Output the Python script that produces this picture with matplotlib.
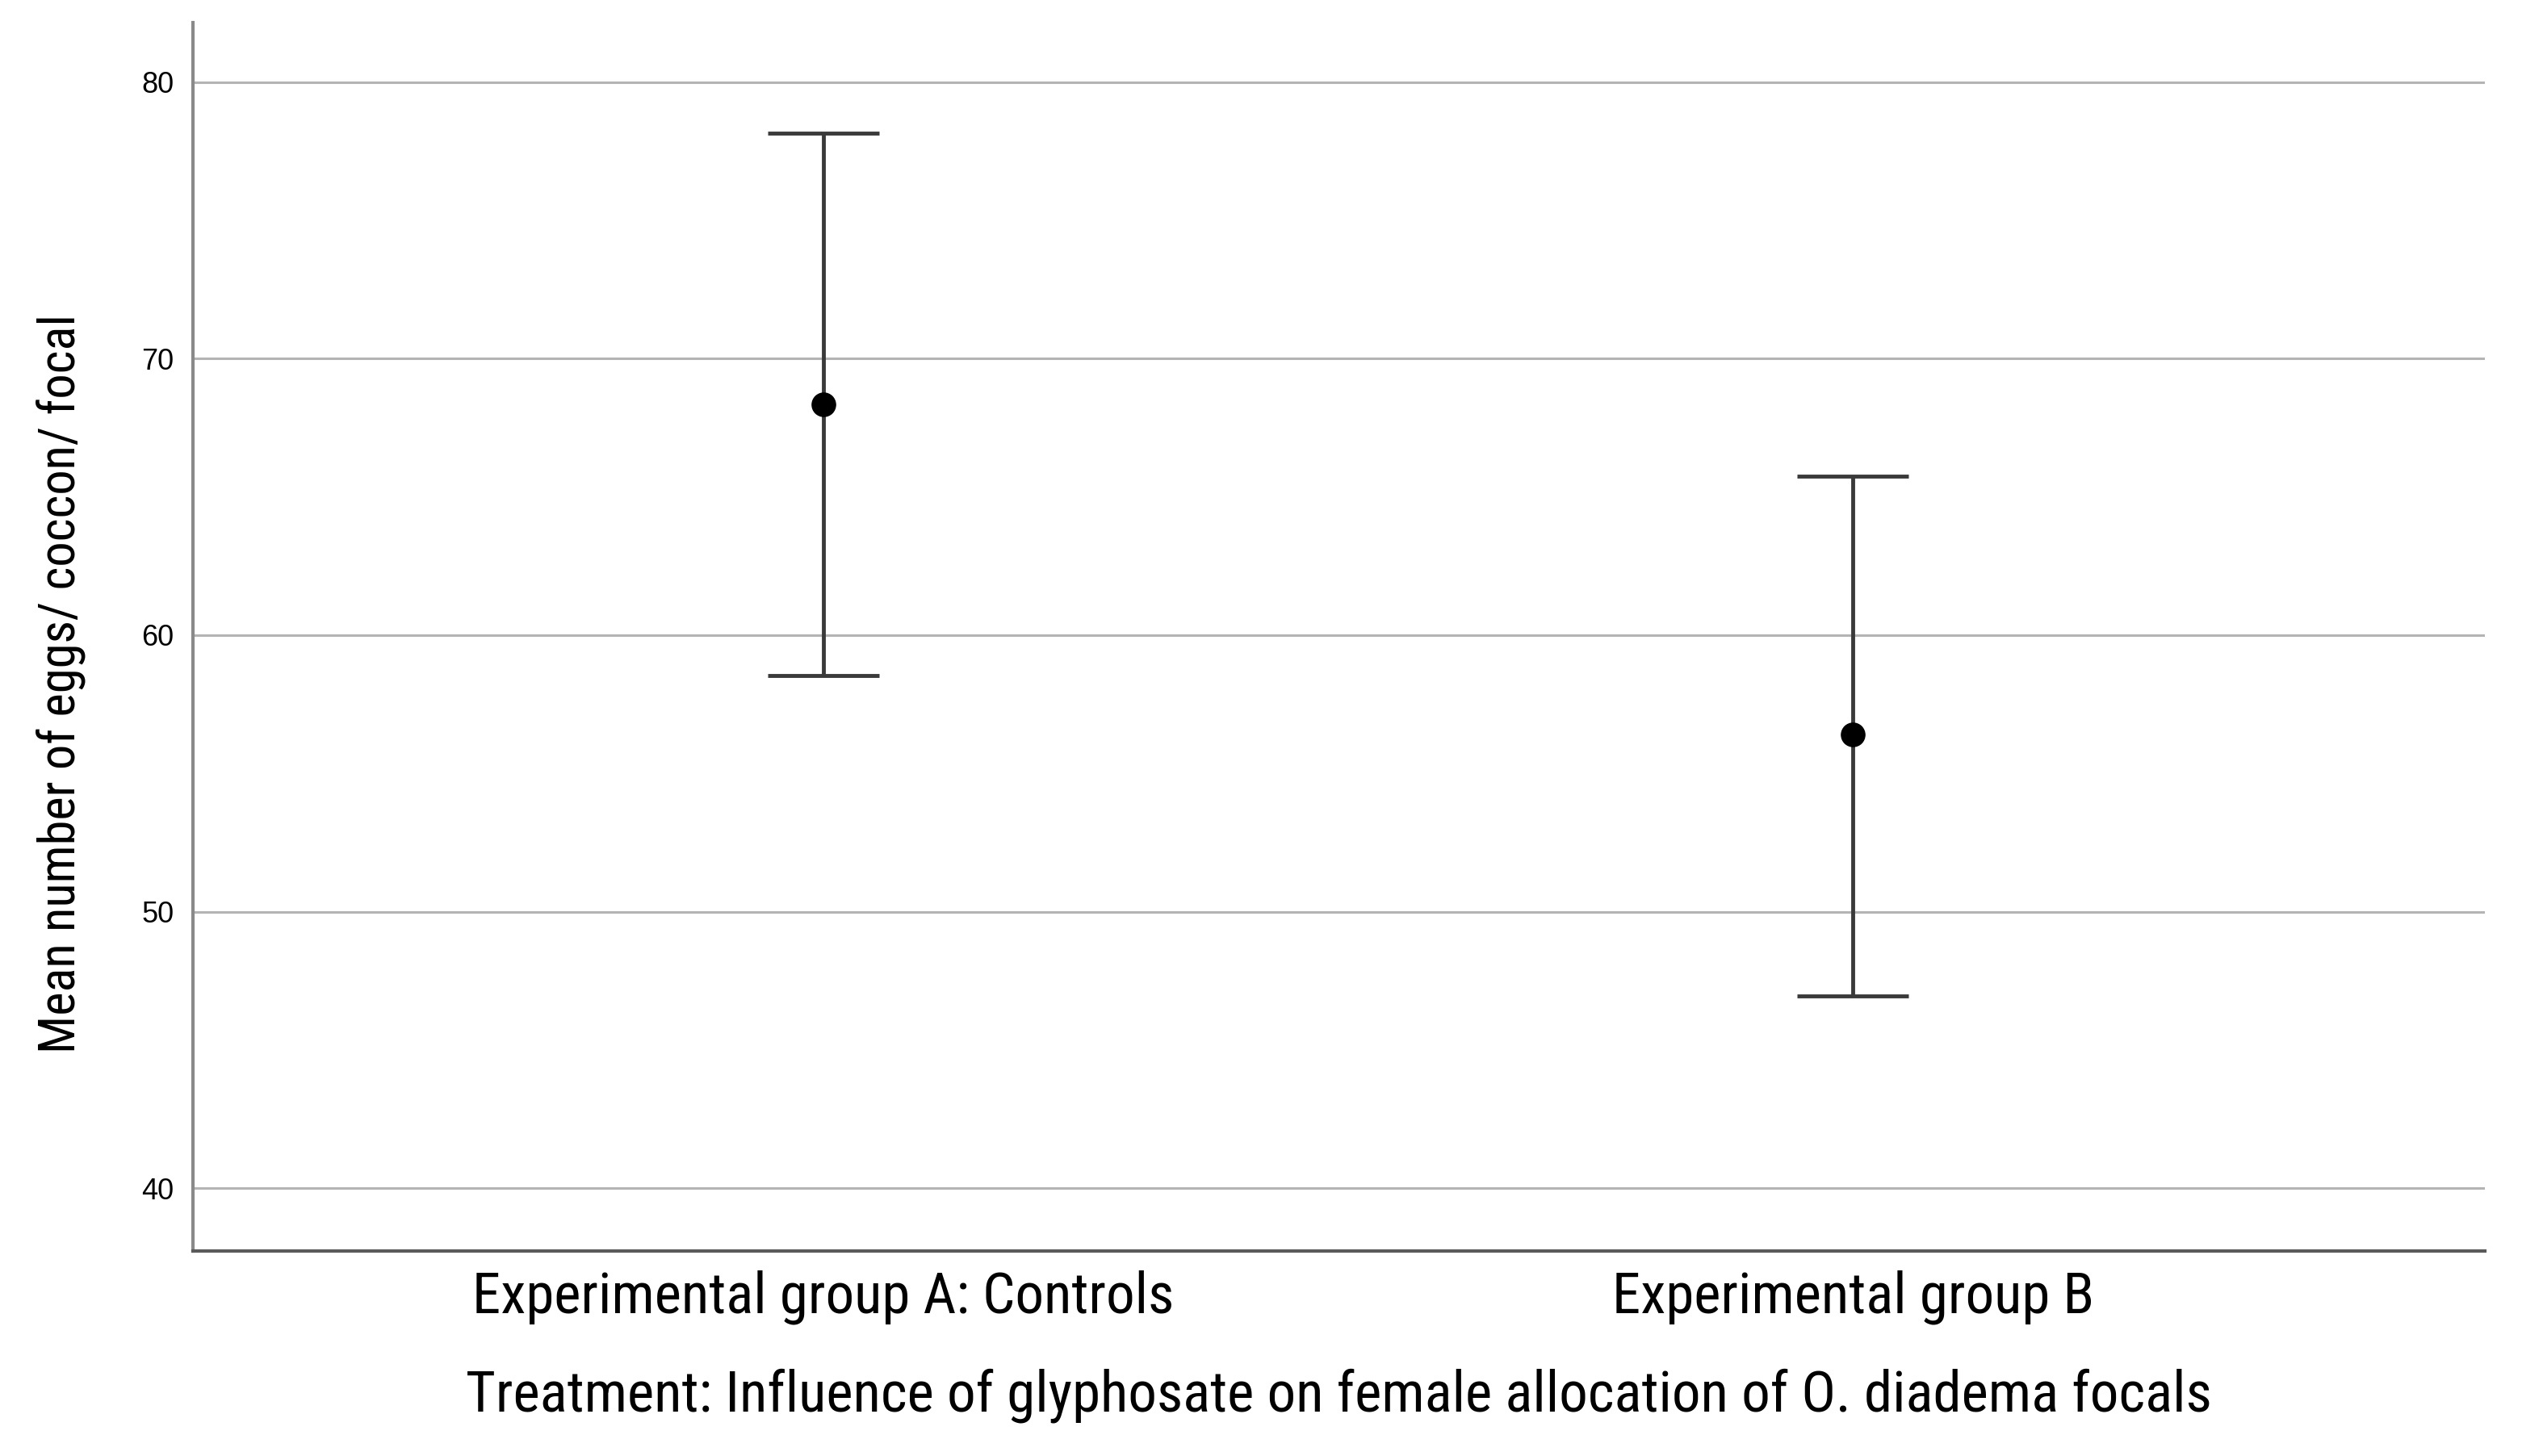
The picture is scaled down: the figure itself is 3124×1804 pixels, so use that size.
import matplotlib
matplotlib.use("Agg")
import matplotlib.pyplot as plt
from matplotlib import font_manager

categories = ["Experimental group A: Controls", "Experimental group B"]
means = [68.35, 56.40]
upper = [78.15, 65.75]
lower = [58.55, 46.95]
yticks = [40, 50, 60, 70, 80]
xlabel = "Treatment: Influence of glyphosate on female allocation of O. diadema focals"
ylabel = "Mean number of eggs/ coccon/ focal"

names = {f.name for f in font_manager.fontManager.ttflist}
cands = ["Roboto Condensed", "Liberation Sans Narrow", "Lato"]
narrow = next((c for c in cands if c in names), "Liberation Sans")

fig = plt.figure(figsize=(31.24, 18.04), dpi=100)
ax = fig.add_axes([0.0765, 0.1408, 0.9088, 0.8437])

x = list(range(len(categories)))
yerr = [[m - l for m, l in zip(means, lower)], [u - m for m, u in zip(means, upper)]]
ax.errorbar(x, means, yerr=yerr, fmt="o", color="black", ms=21,
            ecolor="#3a3a3a", elinewidth=3.5, capsize=50, capthick=3.5, zorder=3)

ax.set_xlim(-0.6125, 1.614)
ax.set_ylim(37.73, 82.15)
ax.set_yticks(yticks)
ax.set_xticks(x)
ax.set_xticklabels(categories, fontsize=51, family=[narrow, "DejaVu Sans"])
ax.set_yticklabels([str(v) for v in yticks], fontsize=26, family=["Liberation Sans", "DejaVu Sans"])
ax.tick_params(axis="both", length=0)
ax.tick_params(axis="y", pad=17)
ax.tick_params(axis="x", pad=17)

ax.yaxis.grid(True, color="#b4b4b4", linewidth=2.2)
ax.set_axisbelow(True)
for s in ["top", "right"]:
    ax.spines[s].set_visible(False)
ax.spines["left"].set_color("#8a8a8a")
ax.spines["left"].set_linewidth(3)
ax.spines["bottom"].set_color("#5a5a5a")
ax.spines["bottom"].set_linewidth(3)

ax.set_xlabel(xlabel, fontsize=51, family=[narrow, "DejaVu Sans"], labelpad=39)
ax.set_ylabel(ylabel, fontsize=45, family=[narrow, "DejaVu Sans"])
ax.yaxis.set_label_coords(-0.047, 0.462)

fig.savefig("out.png", dpi=100, facecolor="white")
